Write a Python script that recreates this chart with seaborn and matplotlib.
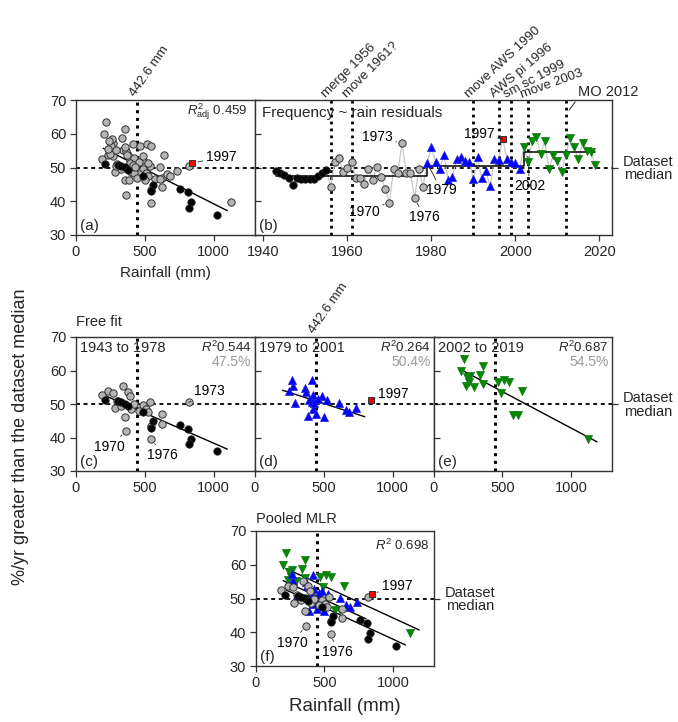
import numpy as np
import pandas as pd
import matplotlib
matplotlib.use("Agg")
import matplotlib.pyplot as plt
import seaborn as sns

sns.set_theme(style="ticks")
plt.rcParams['font.family'] = ['Liberation Sans', 'DejaVu Sans']
plt.rcParams['mathtext.fontset'] = 'custom'
plt.rcParams['mathtext.rm'] = 'Liberation Sans'
plt.rcParams['mathtext.it'] = 'Liberation Sans:italic'

# ---------------- data: rainfall (mm) vs frequency (%/yr) ----------------
rain_early = [210, 307, 326, 355, 379, 483, 560, 548, 758, 814, 833, 821, 1024]
freq_early = [51.1, 50.8, 50.5, 50.1, 49.4, 47.6, 44.9, 42.9, 43.7, 42.6, 39.7, 38.0, 36.0]

rain_mid = [186, 232, 270, 280, 343, 355, 362, 379, 391, 403, 330, 420, 483, 507, 536,
            548, 628, 628, 548, 821, 300, 460, 520]
freq_mid = [52.6, 53.8, 53.3, 48.8, 55.3, 46.2, 41.9, 53.6, 52.3, 48.6, 49.5, 50.0, 49.6,
            48.4, 50.5, 43.4, 46.9, 44.1, 39.5, 50.5, 51.0, 48.0, 47.5]

rain_blue = [266, 273, 249, 415, 362, 374, 423, 483, 524, 394, 411, 290, 611, 659, 684,
             737, 418, 386, 442, 500, 459, 430]
freq_blue = [57.3, 55.3, 54.0, 57.1, 54.8, 53.6, 52.8, 52.3, 51.3, 51.2, 50.6, 50.4, 50.2,
             48.2, 47.6, 48.9, 48.4, 46.4, 46.9, 46.2, 51.5, 50.2]

rain_green = [200, 217, 357, 261, 333, 256, 232, 292, 357, 466, 514, 546, 490, 642, 575,
              611, 1125, 240]
freq_green = [60.0, 63.5, 61.4, 58.4, 58.7, 56.5, 55.5, 55.1, 56.1, 56.5, 57.1, 56.5, 53.3,
              53.8, 46.6, 46.6, 39.7, 58.0]

rain_1997 = [845]
freq_1997 = [51.3]

# ---------------- data: residual time series ----------------
years = list(range(1943, 2020))
resid = [49.0, 48.3, 47.7, 47.0, 44.8, 46.8, 46.5, 46.5, 46.5, 46.6, 47.5, 48.5, 49.3,
         44.3, 51.7, 52.7, 48.8, 49.8, 51.7, 46.8, 46.8, 45.0, 49.5, 46.3, 50.2, 47.3,
         43.6, 39.6, 49.6, 48.5, 57.2, 48.5, 48.5, 40.9, 49.6, 44.3,
         51.4, 56.0, 51.7, 49.6, 53.7, 46.3, 47.3, 52.4, 53.0, 51.9, 51.7, 46.5, 53.0,
         46.8, 49.0, 44.5, 52.4, 52.2, 58.4, 52.4, 51.7, 51.4, 49.5,
         56.0, 51.7, 57.9, 59.1, 54.0, 57.9, 49.5, 53.7, 52.0, 48.8, 53.7, 58.6, 56.2,
         52.4, 57.4, 55.0, 54.7, 50.7]
period_start = [1943, 1956, 1979, 2002]
step_edges = [1943, 1979, 2002, 2019]
step_levels = [47.5, 50.4, 54.5]

event_years = [1956, 1961, 1990, 1996, 1999, 2003]
event_labels = ["merge 1956", "move 1961?", "move AWS 1990", "AWS pi 1996", "sm sc 1999", "move 2003"]
event_rot = [45, 45, 43, 40, 28, 20]
mo_year = 2012

threshold_mm = 442.6
median_level = 50

# fit coefficients (intercept, slope)
fit_a = (59.77, -0.02053)
fit_c = (56.3, -0.0180)
fit_d = (56.75, -0.01323)
fit_e = (64.54, -0.0217)
pooled_slope = -0.0187
pooled_intercepts = {"early": 56.65, "blue": 59.0, "green": 62.96}

r2_text = {"a": "0.459", "c": "0.544", "d": "0.264", "e": "0.687", "f": "0.698"}
median_text = {"c": "47.5%", "d": "50.4%", "e": "54.5%"}

rain_ticks = [0, 500, 1000]
freq_ticks = [30, 40, 50, 60, 70]
year_ticks = [1940, 1960, 1980, 2000, 2020]

# ---------------- frames ----------------
sc = pd.concat([
    pd.DataFrame({"rain": rain_early, "freq": freq_early, "grp": "early"}),
    pd.DataFrame({"rain": rain_mid, "freq": freq_mid, "grp": "mid"}),
    pd.DataFrame({"rain": rain_blue, "freq": freq_blue, "grp": "blue"}),
    pd.DataFrame({"rain": rain_green, "freq": freq_green, "grp": "green"}),
    pd.DataFrame({"rain": rain_1997, "freq": freq_1997, "grp": "red"}),
], ignore_index=True)

ts = pd.DataFrame({"year": years, "val": resid})
def grp_of(y):
    if y == 1997:
        return "red"
    if y < period_start[1]:
        return "early"
    if y < period_start[2]:
        return "mid"
    if y < period_start[3]:
        return "blue"
    return "green"
ts["grp"] = [grp_of(y) for y in ts["year"]]

style = {
    "early": dict(marker="o", color="black", edgecolor="#222222", s=28, linewidth=0.6),
    "mid": dict(marker="o", color="#b4b4b4", edgecolor="#333333", s=28, linewidth=0.7),
    "gray": dict(marker="o", color="#b4b4b4", edgecolor="#333333", s=28, linewidth=0.7),
    "blue": dict(marker="^", color="#0000ff", edgecolor="#2222dd", s=34, linewidth=0.5),
    "green": dict(marker="v", color="#008a00", edgecolor="#117711", s=34, linewidth=0.5),
    "red": dict(marker="s", color="#ff0000", edgecolor="#333333", s=22, linewidth=0.7),
}

def pts(ax, df, key, x="rain", y="freq", z=3):
    if len(df) == 0:
        return
    sns.scatterplot(data=df, x=x, y=y, ax=ax, legend=False, zorder=z, **style[key])

W, H = 678, 722
fig = plt.figure(figsize=(6.78, 7.22), dpi=100)
def ax_at(x0, x1, ytop, ybot):
    return fig.add_axes([x0 / W, 1 - ybot / H, (x1 - x0) / W, (ybot - ytop) / H])

ax_a = ax_at(76, 255, 100, 235)
ax_b = ax_at(255, 612, 100, 235)
ax_c = ax_at(76, 255, 337, 471)
ax_d = ax_at(255, 434, 337, 471)
ax_e = ax_at(434, 612, 337, 471)
ax_f = ax_at(256, 434, 531, 666)

TK = 10.5
SP = "#333333"

def base(ax, ylabels=True):
    for s in ax.spines.values():
        s.set_color(SP)
        s.set_linewidth(1.0)
    ax.set_ylim(30, 70)
    ax.set_yticks(freq_ticks)
    ax.tick_params(axis="both", direction="out", length=4, width=0.9, color=SP,
                   labelsize=TK, pad=3)
    if not ylabels:
        ax.tick_params(axis="y", direction="in", labelleft=False, length=4)
    ax.axhline(median_level, color="black", ls=(0, (2.2, 2.0)), lw=1.3, zorder=1)

def rain_ax(ax, ylabels=True):
    base(ax, ylabels)
    ax.set_xlim(0, 1300)
    ax.set_xticks(rain_ticks)
    ax.axvline(threshold_mm, color="black", ls=(0, (1, 1.5)), lw=2.2, zorder=1)

def fit_line(ax, coef, xs):
    xr = np.linspace(min(xs), max(xs), 10)
    ax.plot(xr, coef[0] + coef[1] * xr, color="black", lw=1.0, zorder=2)

def leader(ax, text, xy, xytext, fs=9.5, color="black"):
    ax.annotate(text, xy=xy, xytext=xytext, textcoords="data", ha="center", va="center",
                fontsize=fs, color=color, annotation_clip=False,
                arrowprops=dict(arrowstyle="-", color="#222222", lw=0.6, shrinkA=0, shrinkB=4))

def median_label(ax):
    t = ax.twinx()
    t.set_ylim(30, 70)
    t.set_yticks([median_level])
    t.set_yticklabels(["Dataset\nmedian"], fontsize=10.5, multialignment="center",
                      linespacing=0.95)
    t.tick_params(axis="y", direction="out", length=4, width=0.9, color=SP, pad=4)
    t.grid(False)
    for s in t.spines.values():
        s.set_visible(False)

def rot_label(ax, x, y, text, rot, fs=9.5):
    ax.text(x, y, text, rotation=rot, rotation_mode="anchor", ha="left", va="center",
            fontsize=fs, clip_on=False)

# ---------------- (a) ----------------
rain_ax(ax_a)
others = sc[sc.grp.isin(["mid", "blue", "green"])]
pts(ax_a, others, "gray")
pts(ax_a, sc[sc.grp == "early"], "early")
pts(ax_a, sc[sc.grp == "red"], "red")
fit_line(ax_a, fit_a, [198, 1099])
ax_a.text(0.955, 0.91, r"$R^2_{\rm adj}$ " + r2_text["a"], transform=ax_a.transAxes,
          ha="right", va="center", fontsize=9.5)
ax_a.text(0.02, 0.07, "(a)", transform=ax_a.transAxes, ha="left", va="center", fontsize=11)
leader(ax_a, "1997", (rain_1997[0], freq_1997[0]), (1056, 53.1), fs=10)
rot_label(ax_a, threshold_mm - 30, 71.3, "442.6 mm", 55)

# ---------------- (b) ----------------
base(ax_b, ylabels=False)
ax_b.set_xlim(1938, 2023)
ax_b.set_xticks(year_ticks)
for yr in event_years + [mo_year]:
    ax_b.axvline(yr, color="black", ls=(0, (1, 1.5)), lw=2.0, zorder=1)
sns.lineplot(data=ts, x="year", y="val", ax=ax_b, color="#c8c8c8", lw=0.9, zorder=2)
ax_b.plot(step_edges, step_levels + [step_levels[-1]], drawstyle="steps-post",
          color="black", lw=1.1, zorder=2)
for g in ["early", "mid", "blue", "green", "red"]:
    pts(ax_b, ts[ts.grp == g], g, x="year", y="val")
ax_b.text(0.02, 0.90, "Frequency ~ rain residuals", transform=ax_b.transAxes,
          ha="left", va="center", fontsize=11)
ax_b.text(0.01, 0.07, "(b)", transform=ax_b.transAxes, ha="left", va="center", fontsize=11)
val = dict(zip(years, resid))
leader(ax_b, "1973", (1973, val[1973]), (1967.1, 58.9), fs=10)
leader(ax_b, "1970", (1970, val[1970]), (1964.0, 36.9), fs=10)
leader(ax_b, "1976", (1976, val[1976]), (1978.3, 35.4), fs=10)
leader(ax_b, "1979", (1979, val[1979]), (1982.3, 43.3), fs=10)
leader(ax_b, "1997", (1997, val[1997]), (1991.4, 59.9), fs=10)
leader(ax_b, "2002", (2003, val[2003]), (2003.4, 44.5), fs=10)
for yr, txt, rot in zip(event_years, event_labels, event_rot):
    rot_label(ax_b, yr - 1.6, 71.3, txt, rot)
ax_b.annotate("MO 2012", xy=(mo_year + 0.8, 67.0), xytext=(2014.8, 70.4), textcoords="data",
              ha="left", va="bottom", fontsize=10.5, annotation_clip=False,
              arrowprops=dict(arrowstyle="-", color="#222222", lw=0.7, shrinkA=0, shrinkB=0,
                              relpos=(0.0, 0.0)))
median_label(ax_b)

# ---------------- (c) ----------------
rain_ax(ax_c)
pts(ax_c, sc[sc.grp == "mid"], "mid")
pts(ax_c, sc[sc.grp == "early"], "early")
fit_line(ax_c, fit_c, [222, 1099])
ax_c.text(0.02, 0.92, "1943 to 1978", transform=ax_c.transAxes, ha="left", va="center", fontsize=10.5)
ax_c.text(0.98, 0.925, r"$R^2$" + r2_text["c"], transform=ax_c.transAxes, ha="right", va="center", fontsize=9.5)
ax_c.text(0.98, 0.81, median_text["c"], transform=ax_c.transAxes, ha="right", va="center",
          fontsize=10, color="#999999")
ax_c.text(0.02, 0.07, "(c)", transform=ax_c.transAxes, ha="left", va="center", fontsize=11)
leader(ax_c, "1973", (821, 50.5), (971, 53.8), fs=10)
leader(ax_c, "1970", (362, 41.9), (246, 37.3), fs=10)
leader(ax_c, "1976", (548, 39.5), (630, 34.8), fs=10)
ax_c.text(0.0, 1.06, "Free fit", transform=ax_c.transAxes, ha="left", va="bottom", fontsize=10.5)

# ---------------- (d) ----------------
rain_ax(ax_d, ylabels=False)
pts(ax_d, sc[sc.grp == "blue"], "blue")
pts(ax_d, sc[sc.grp == "red"], "red")
fit_line(ax_d, fit_d, [200, 797])
ax_d.text(0.02, 0.92, "1979 to 2001", transform=ax_d.transAxes, ha="left", va="center", fontsize=10.5)
ax_d.text(0.98, 0.925, r"$R^2$" + r2_text["d"], transform=ax_d.transAxes, ha="right", va="center", fontsize=9.5)
ax_d.text(0.98, 0.81, median_text["d"], transform=ax_d.transAxes, ha="right", va="center",
          fontsize=10, color="#999999")
ax_d.text(0.02, 0.07, "(d)", transform=ax_d.transAxes, ha="left", va="center", fontsize=11)
leader(ax_d, "1997", (rain_1997[0], freq_1997[0]), (1007, 53.1), fs=10)
rot_label(ax_d, threshold_mm - 30, 71.3, "442.6 mm", 55)

# ---------------- (e) ----------------
rain_ax(ax_e, ylabels=False)
pts(ax_e, sc[sc.grp == "green"], "green")
fit_line(ax_e, fit_e, [200, 1191])
ax_e.text(0.02, 0.92, "2002 to 2019", transform=ax_e.transAxes, ha="left", va="center", fontsize=10.5)
ax_e.text(0.98, 0.925, r"$R^2$" + r2_text["e"], transform=ax_e.transAxes, ha="right", va="center", fontsize=9.5)
ax_e.text(0.98, 0.81, median_text["e"], transform=ax_e.transAxes, ha="right", va="center",
          fontsize=10, color="#999999")
ax_e.text(0.02, 0.07, "(e)", transform=ax_e.transAxes, ha="left", va="center", fontsize=11)
median_label(ax_e)

# ---------------- (f) ----------------
rain_ax(ax_f)
pts(ax_f, sc[sc.grp == "green"], "green")
pts(ax_f, sc[sc.grp == "blue"], "blue")
pts(ax_f, sc[sc.grp == "mid"], "mid")
pts(ax_f, sc[sc.grp == "early"], "early")
pts(ax_f, sc[sc.grp == "red"], "red")
fit_line(ax_f, (pooled_intercepts["green"], pooled_slope), [217, 1193])
fit_line(ax_f, (pooled_intercepts["blue"], pooled_slope), [198, 802])
fit_line(ax_f, (pooled_intercepts["early"], pooled_slope), [222, 1092])
ax_f.text(0.975, 0.89, r"$R^2$ " + r2_text["f"], transform=ax_f.transAxes, ha="right", va="center", fontsize=9.5)
ax_f.text(0.02, 0.07, "(f)", transform=ax_f.transAxes, ha="left", va="center", fontsize=11)
ax_f.text(0.0, 1.04, "Pooled MLR", transform=ax_f.transAxes, ha="left", va="bottom", fontsize=10.5)
leader(ax_f, "1997", (rain_1997[0], freq_1997[0]), (1029, 53.7), fs=10)
leader(ax_f, "1970", (362, 41.9), (268, 36.9), fs=10)
leader(ax_f, "1976", (548, 39.5), (591, 34.2), fs=10)
median_label(ax_f)

# axis labels (set after seaborn, which writes its own)
for ax in [ax_a, ax_b, ax_c, ax_d, ax_e, ax_f]:
    ax.set_xlabel("")
    ax.set_ylabel("")
ax_a.set_xlabel("Rainfall (mm)", fontsize=11, labelpad=5)
ax_f.set_xlabel("Rainfall (mm)", fontsize=13.5, labelpad=6)

fig.text(0.03, 0.395, "%/yr greater than the dataset median", rotation=90,
         ha="center", va="center", fontsize=13)

fig.savefig("out.png", dpi=100)
